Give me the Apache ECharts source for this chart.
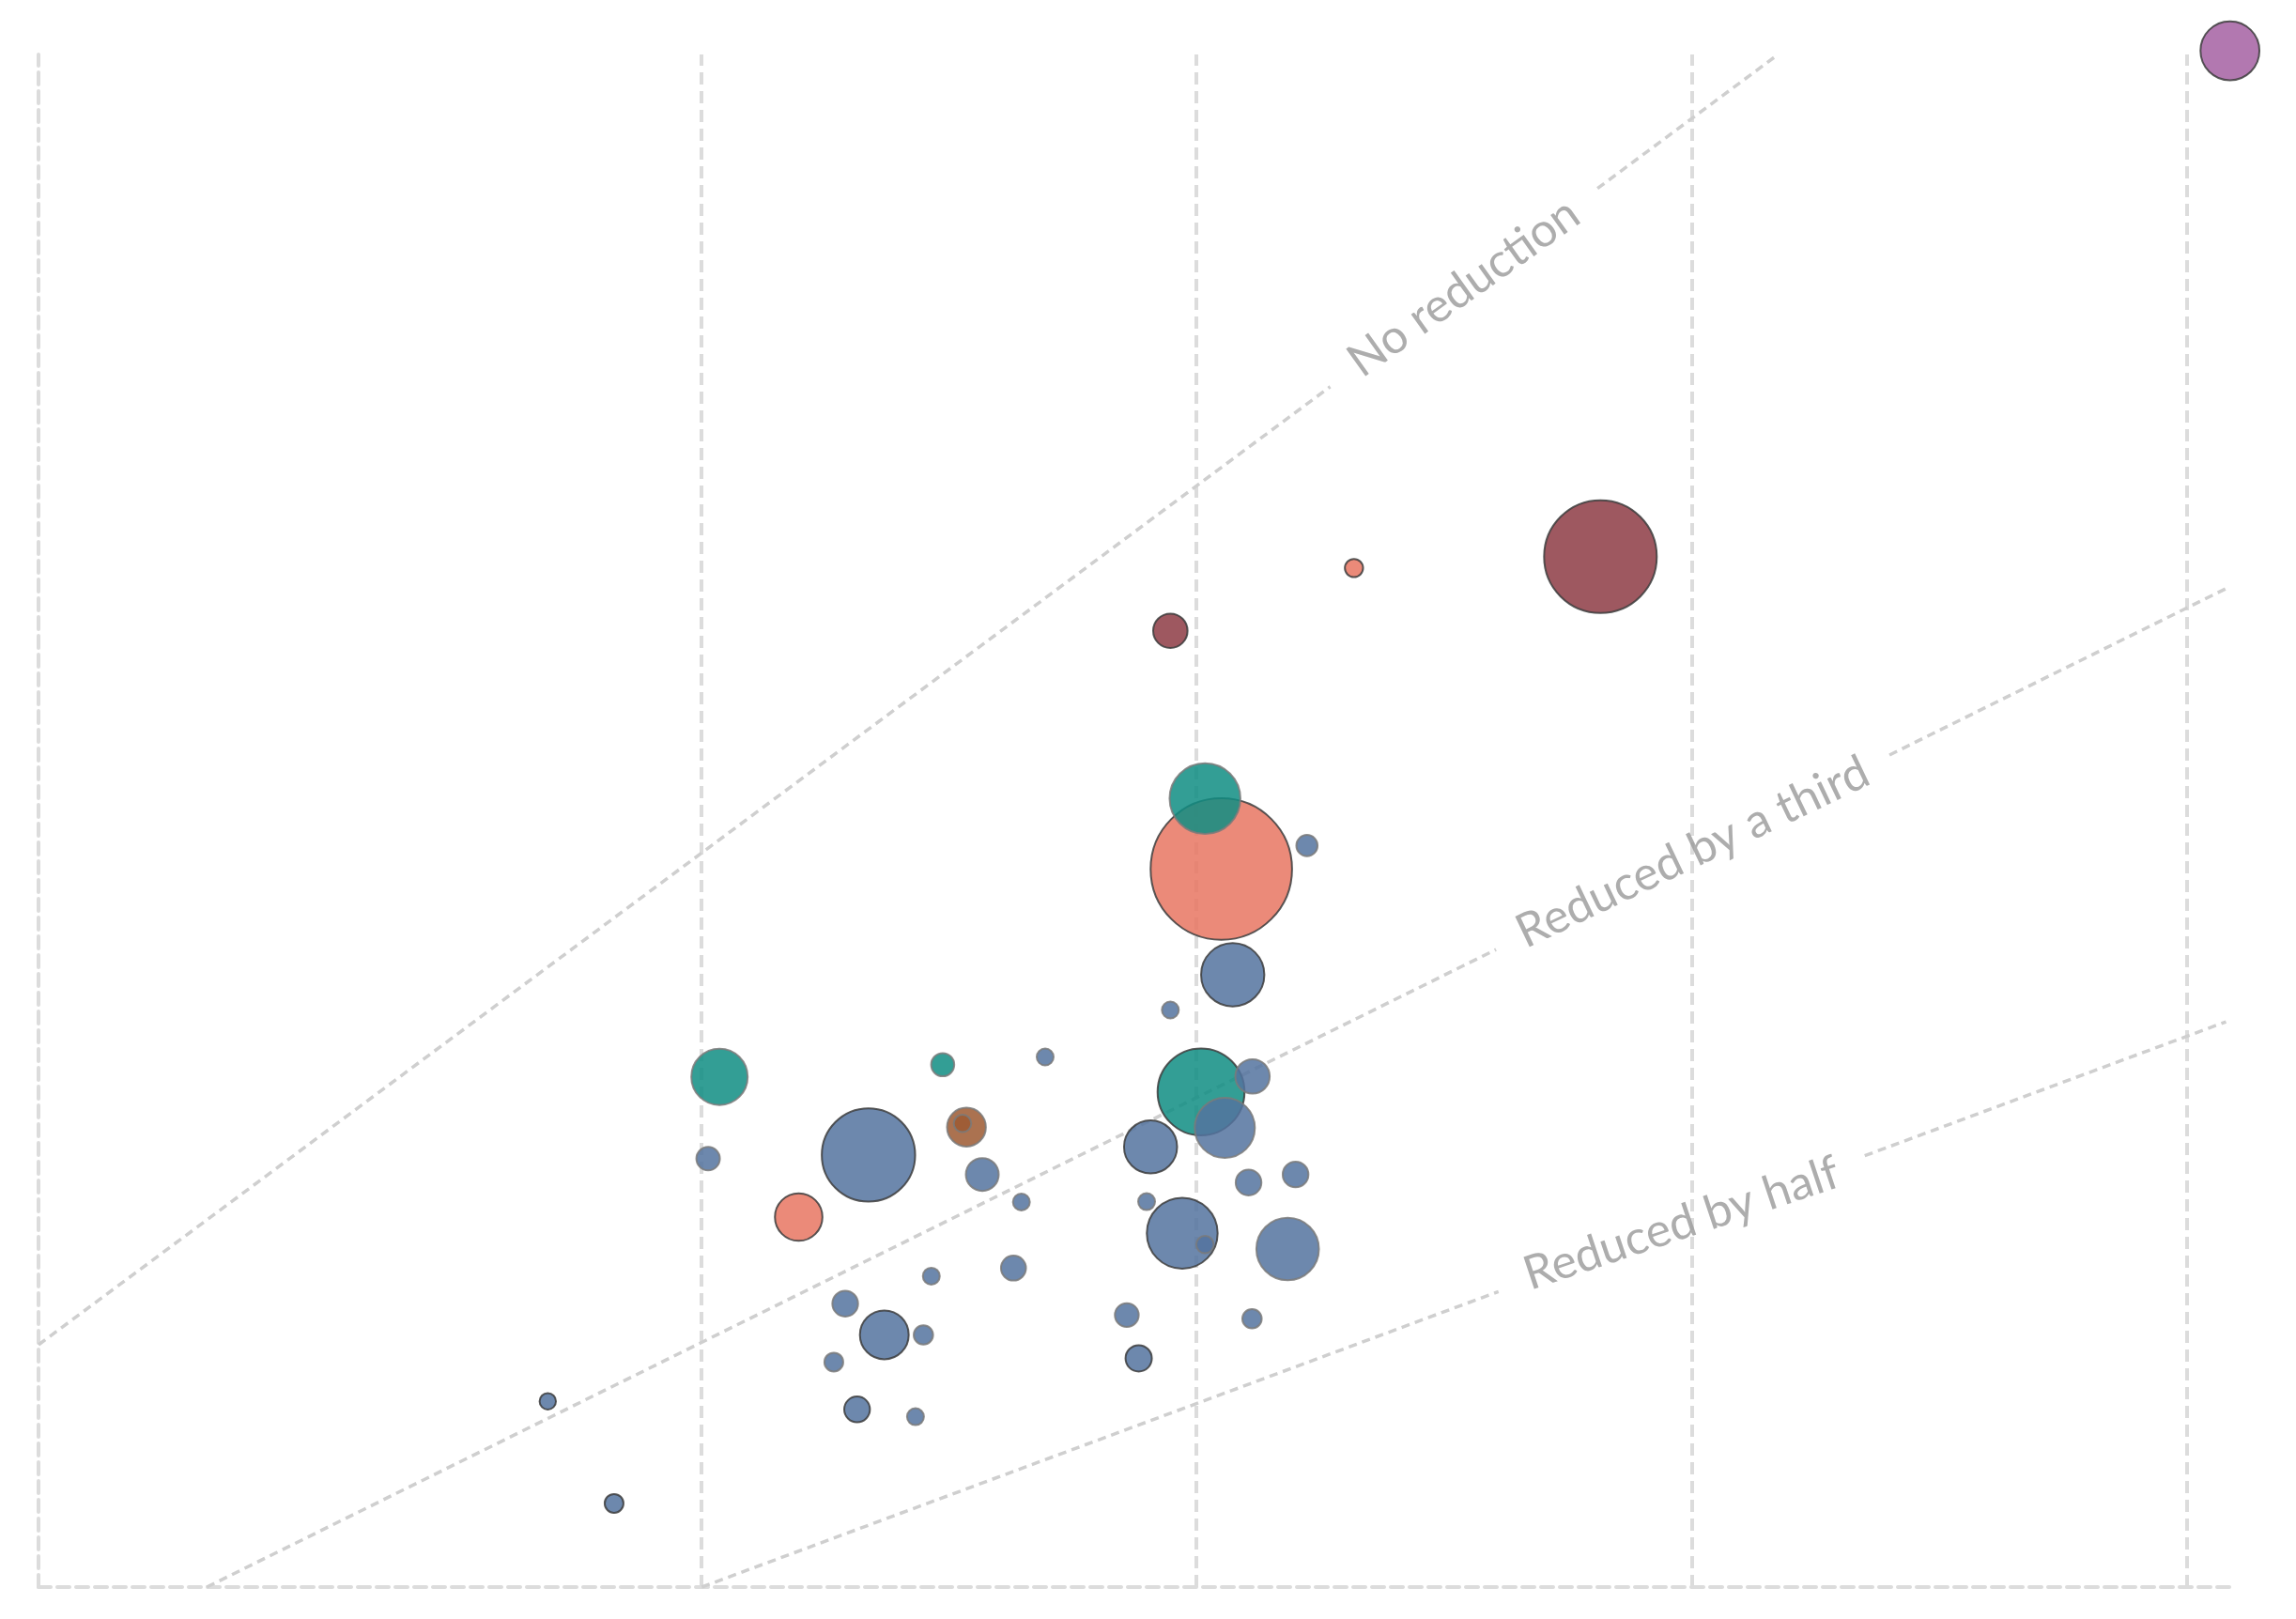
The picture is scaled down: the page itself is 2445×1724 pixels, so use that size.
<!DOCTYPE html>
<html>
<head>
<meta charset="utf-8">
<script src="https://cdn.jsdelivr.net/npm/echarts@6/dist/echarts.min.js"></script>
<style>
  html, body { margin: 0; padding: 0; background: #ffffff; }
  #chart { width: 2445px; height: 1724px; }
</style>
</head>
<body>
<div id="chart"></div>
<script>
// ---- data ----
const xValues = [4.036, 4.013, 4.487, 4.694, 4.535, 4.527, 4.337, 4.567, 4.646, 4.196,
                 4.464, 4.630, 4.290, 4.369, 4.448, 4.267, 4.314, 4.432, 3.689, 3.823,
                 4.947, 5.009, 5.113, 5.057, 4.907, 5.105, 5.200, 4.899, 4.971, 5.017,
                 5.184, 4.859, 5.112, 4.883, 4.947, 5.017, 5.050, 5.223, 5.073, 5.318,
                 5.816, 7.088];
const yValues = [3.390, 3.167, 3.423, 3.444, 3.253, 3.263, 3.177, 3.124, 3.049, 3.008,
                 2.847, 2.869, 2.772, 2.687, 2.687, 2.613, 2.484, 2.464, 2.506, 2.228,
                 3.572, 3.349, 3.391, 3.251, 3.199, 3.102, 3.124, 3.050, 2.964, 2.933,
                 2.921, 2.741, 2.731, 2.623, 4.605, 4.148, 3.956, 4.020, 3.668, 4.776,
                 4.807, 6.185];
const sizeValues = [36, 6.25, 6.05, 3.24, 17.1, 3.46, 98.8, 12.25, 3.24, 25.6,
                    3.24, 7.08, 7.5, 27, 4.24, 4, 7.5, 3.24, 3.03, 4,
                    3.24, 85.7, 13.4, 41, 32, 7.5, 7.5, 3.24, 56.9, 3.46,
                    44.4, 6.45, 4.24, 7.84, 13.4, 56.9, 226.8, 5.1, 45.4, 3.76,
                    144, 39.4];
const groupIndex = [1, 0, 1, 0, 4, 4, 0, 0, 0, 2,
                    0, 0, 0, 0, 0, 0, 0, 0, 0, 0,
                    0, 1, 0, 0, 0, 0, 0, 0, 0, 0,
                    0, 0, 0, 0, 3, 1, 2, 0, 0, 2,
                    3, 5];
const highlighted = [0, 0, 0, 0, 0, 0, 1, 0, 0, 1,
                     0, 0, 0, 1, 0, 0, 1, 0, 1, 1,
                     0, 1, 0, 0, 1, 0, 0, 0, 1, 0,
                     0, 0, 0, 1, 1, 0, 1, 0, 1, 1,
                     1, 1];

const refNames  = ['No reduction', 'Reduced by a third', 'Reduced by half'];
const refRatios = [1, 2 / 3, 1 / 2];
const refGaps   = [[5.27, 5.81], [5.605, 6.40], [5.61, 6.35]];
const refEndX   = 7.08;
const xGridValues = [4, 5, 6, 7];

// ---- styles ----
const groupColors = ['#54739f', '#0f8d82', '#e77561', '#8d3b44', '#9c5931', '#a460a2'];
const xMin = 2.66, xMax = 7.1, yMin = 2, yMax = 6.175;
const labelAngles = [35.5, 25.5, 18.5];

// bubbles, larger first so smaller ones are drawn on top
const bubbles = xValues.map((x, i) => ({ x, y: yValues[i], v: sizeValues[i], g: groupIndex[i], h: highlighted[i] }));
bubbles.sort((a, b) => b.v - a.v);
const bubbleData = bubbles.map(b => ({
  value: [b.x, b.y, b.v],
  itemStyle: {
    color: groupColors[b.g],
    borderColor: b.h ? '#3c3c3c' : '#7a7a7a',
    borderWidth: 2,
    opacity: 0.85
  }
}));

const lineStyleRef = { color: '#cfcfcf', width: 3.5, type: [9, 6] };
const series = [];
refRatios.forEach((k, i) => {
  const start = Math.max(xMin, yMin / k);
  const end = Math.min(refEndX, yMax / k);
  const [g0, g1] = refGaps[i];
  [[start, g0], [g1, end]].forEach(([a, b]) => {
    series.push({
      type: 'line', silent: true, z: 1, symbol: 'none', animation: false,
      data: [[a, a * k], [b, b * k]],
      lineStyle: lineStyleRef
    });
  });
});
// vertical grid lines at the axis ticks
series[0].markLine = {
  silent: true, symbol: 'none', animation: false, z: 0,
  label: { show: false },
  lineStyle: { color: '#dcdcdc', width: 4, type: [13, 7] },
  data: xGridValues.map(v => ({ xAxis: v }))
};
series.push({
  type: 'scatter', z: 3, clip: false, animation: false,
  symbol: 'circle',
  symbolSize: d => 10 * Math.sqrt(d[2]),
  data: bubbleData
});
series.push({
  type: 'scatter', z: 4, silent: true, animation: false, symbolSize: 0,
  data: refNames.map((name, i) => {
    const xm = (refGaps[i][0] + refGaps[i][1]) / 2;
    return {
      value: [xm, xm * refRatios[i]],
      label: {
        show: true, formatter: name, position: 'inside', rotate: labelAngles[i],
        align: 'center', verticalAlign: 'middle',
        fontFamily: 'Lato', fontSize: 50, color: '#999999'
      }
    };
  })
});

const axisLineStyle = { show: true, onZero: false, lineStyle: { color: '#dcdcdc', width: 4, type: [13, 7] } };
const option = {
  animation: false,
  backgroundColor: '#ffffff',
  grid: { left: 41, right: 64, top: 58, bottom: 34 },
  xAxis: { type: 'value', min: xMin, max: xMax, axisLine: axisLineStyle,
           axisTick: { show: false }, axisLabel: { show: false }, splitLine: { show: false } },
  yAxis: { type: 'value', min: yMin, max: yMax, axisLine: axisLineStyle,
           axisTick: { show: false }, axisLabel: { show: false }, splitLine: { show: false } },
  series
};
const chart = echarts.init(document.getElementById('chart'), null, { renderer: 'canvas' });
chart.setOption(option);
</script>
</body>
</html>
